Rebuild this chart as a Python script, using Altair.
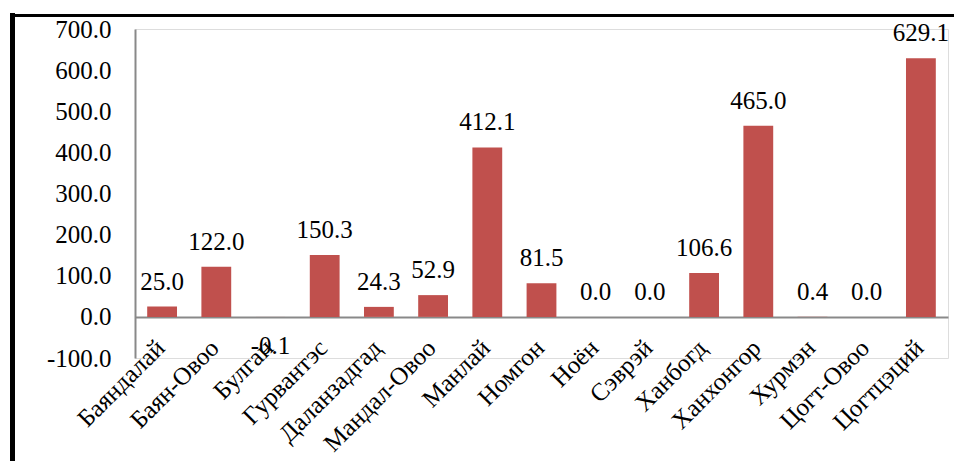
import altair as alt
import pandas as pd

categories = ["Баяндалай", "Баян-Овоо", "Булган", "Гурвантэс", "Даланзадгад",
              "Мандал-Овоо", "Манлай", "Номгон", "Ноён", "Сэврэй", "Ханбогд",
              "Ханхонгор", "Хурмэн", "Цогт-Овоо", "Цогтцэций"]
values = [25.0, 122.0, -0.1, 150.3, 24.3, 52.9, 412.1, 81.5, 0.0, 0.0, 106.6,
          465.0, 0.4, 0.0, 629.1]
y_ticks = [-100, 0, 100, 200, 300, 400, 500, 600, 700]

df = pd.DataFrame({
    "cat": categories,
    "val": values,
    "label": [f"{v:.1f}" for v in values],
})

FONT = "'Liberation Serif', 'Times New Roman', Times, serif"
BAR = "#C0504D"
AXC = "#898989"

x_enc = alt.X("cat:N", sort=None, title=None,
              scale=alt.Scale(paddingInner=0.45, paddingOuter=0.225),
              axis=alt.Axis(labelAngle=-45, labelAlign="right", labelBaseline="top",
                            labelPadding=18, labelOffset=-10, ticks=False, offset=-41,
                            domainColor=AXC, domainWidth=2, labelFont=FONT,
                            labelFontSize=25, labelColor="black", grid=False))
y_scale = alt.Scale(domain=[-100, 700], nice=False, zero=False)

bars = alt.Chart(df).mark_bar(color=BAR).encode(
    x=x_enc,
    y=alt.Y("val:Q", scale=y_scale, title=None,
            axis=alt.Axis(values=y_ticks, ticks=False, labelPadding=24,
                          labelExpr="replace(format(datum.value, '.1f'), '\u2212', '-')",
                          domainColor=AXC, domainWidth=2, labelFont=FONT,
                          labelFontSize=25, labelColor="black", grid=False)),
    y2=alt.datum(0),
)

pos_labels = alt.Chart(df).transform_filter("datum.val >= 0").mark_text(
    font=FONT, fontSize=25, color="black", baseline="alphabetic", dy=-17
).encode(x=alt.X("cat:N", sort=None), y=alt.Y("val:Q", scale=y_scale), text="label:N")

neg_labels = alt.Chart(df).transform_filter("datum.val < 0").mark_text(
    font=FONT, fontSize=25, color="black", baseline="top", dy=17
).encode(x=alt.X("cat:N", sort=None), y=alt.Y("val:Q", scale=y_scale), text="label:N")

one = alt.Data(values=[{"k": 1}])
left_border = alt.Chart(one).mark_rule(color="black", strokeWidth=5).encode(
    x=alt.value(-122.5), y=alt.value(-16), y2=alt.value(460))
top_border = alt.Chart(one).mark_rule(color="black", strokeWidth=3).encode(
    x=alt.value(-125), x2=alt.value(830), y=alt.value(-13.5))

chart = alt.layer(bars, pos_labels, neg_labels, left_border, top_border).properties(
    width=813, height=329,
    autosize=alt.AutoSizeParams(type="none"),
    padding={"left": 127, "top": 21, "right": 6, "bottom": 103},
).configure_view(stroke=None).configure(background="white")

chart.save("out.html", embed_options={"renderer": "svg", "actions": False})
